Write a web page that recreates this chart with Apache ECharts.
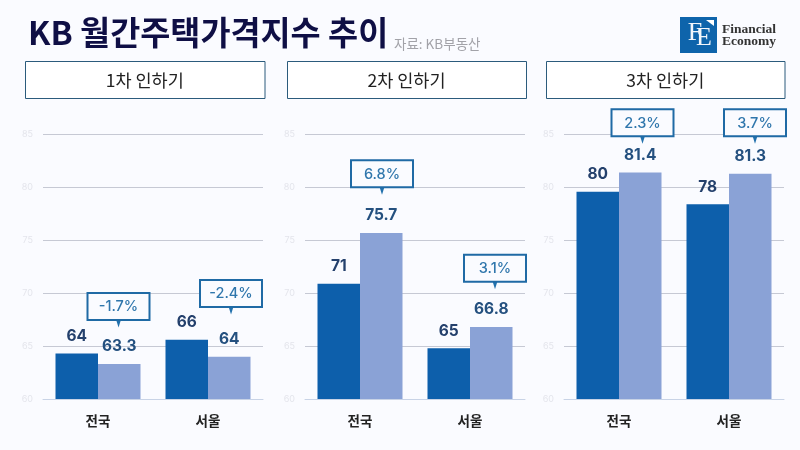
<!DOCTYPE html>
<html>
<head>
<meta charset="utf-8">
<style>
  html, body { margin: 0; padding: 0; background: #fafbff; }
  #chart { width: 800px; height: 450px; }
</style>
<script src="https://cdn.jsdelivr.net/npm/echarts@6/dist/echarts.min.js"></script>
</head>
<body>
<div id="chart"></div>
<script>
const FONT = '"Noto Sans CJK KR", sans-serif';
const NUM_FONT = 'Inter, "Noto Sans CJK KR", sans-serif';
const cats = ['전국', '서울'];

// bar = height, text = the (rounded) label printed above it
const panels = [
  {
    name: '1차 인하기', box: [25, 239.5], left: 43,
    before: [{ value: 64.3, text: '64' }, { value: 65.6, text: '66' }],
    after: [{ value: 63.3, text: '63.3' }, { value: 64, text: '64' }],
    notes: [{ text: '-1.7%', y: 68.75, dx: 20.5 }, { text: '-2.4%', y: 69.97, dx: 23 }]
  },
  {
    name: '2차 인하기', box: [287, 239], left: 305,
    before: [{ value: 70.9, text: '71' }, { value: 64.8, text: '65' }],
    after: [{ value: 75.7, text: '75.7' }, { value: 66.8, text: '66.8' }],
    notes: [{ text: '6.8%', y: 81.3, dx: 22 }, { text: '3.1%', y: 72.35, dx: 25 }]
  },
  {
    name: '3차 인하기', box: [546, 238.5], left: 564,
    before: [{ value: 79.6, text: '80' }, { value: 78.4, text: '78' }],
    after: [{ value: 81.4, text: '81.4' }, { value: 81.3, text: '81.3' }],
    notes: [{ text: '2.3%', y: 86.1, dx: 23.5 }, { text: '3.7%', y: 86.1, dx: 26 }]
  }
];

function barSeries(rows, idx, color, labelColor) {
  return {
    type: 'bar',
    xAxisIndex: idx,
    yAxisIndex: idx,
    barWidth: 42.5,
    barGap: 0,
    itemStyle: { color: color },
    label: {
      show: true,
      position: 'top',
      distance: 9.5,
      fontFamily: NUM_FONT,
      fontSize: 15.5,
      fontWeight: 'bold',
      color: labelColor,
      formatter: (p) => p.data.text
    },
    data: rows
  };
}

function renderNote(note, idx, api) {
  const pt = api.coord([cats[idx], note.y]);
  const cx = pt[0] + note.dx;
  const cy = pt[1];
  return {
    type: 'group',
    children: [
      { type: 'polygon', shape: { points: [[cx - 2.5, cy + 13], [cx + 2.5, cy + 13], [cx, cy + 21]] }, style: { fill: '#2271ad' } },
      { type: 'rect', shape: { x: cx - 31, y: cy - 13.5, width: 62, height: 27 }, style: { fill: '#fafbff', stroke: '#1f6aa5', lineWidth: 2 } },
      { type: 'text', style: { x: cx, y: cy + 0.5, text: note.text, align: 'center', verticalAlign: 'middle', fontFamily: NUM_FONT, fontSize: 14.5, fontWeight: 500, fill: '#2f76ac' } }
    ]
  };
}

const grid = [], xAxis = [], yAxis = [], series = [], graphic = [];

panels.forEach((p, i) => {
  grid.push({ left: p.left, width: 220, top: 134.5, height: 264.5 });
  xAxis.push({
    type: 'category',
    gridIndex: i,
    data: cats,
    axisTick: { show: false },
    axisLine: { lineStyle: { color: '#c8d3e6', width: 1 } },
    axisLabel: { margin: 15.5, fontFamily: FONT, fontSize: 13.5, fontWeight: 'bold', color: '#222' }
  });
  yAxis.push({
    type: 'value',
    gridIndex: i,
    min: 60,
    max: 85,
    interval: 5,
    axisLine: { show: false },
    axisTick: { show: false },
    axisLabel: { margin: 10, fontFamily: NUM_FONT, fontSize: 9, color: '#e4e5ec' },
    splitLine: { lineStyle: { color: '#c6c9d4', width: 1 } }
  });
  series.push(barSeries(p.before, i, '#0d5fab', '#24406c'));
  series.push(barSeries(p.after, i, '#8aa2d6', '#24507f'));
  series.push({
    type: 'custom',
    xAxisIndex: i,
    yAxisIndex: i,
    z: 5,
    silent: true,
    renderItem: (params, api) => renderNote(p.notes[params.dataIndex], params.dataIndex, api),
    data: p.notes.map((n, k) => [k, n.y])
  });
  graphic.push({
    type: 'rect',
    shape: { x: p.box[0] + 0.5, y: 61.5, width: p.box[1], height: 37 },
    style: { fill: '#fff', stroke: '#2b5b7c', lineWidth: 1 }
  });
  graphic.push({
    type: 'text',
    style: {
      x: p.box[0] + p.box[1] / 2,
      y: 80,
      text: p.name,
      align: 'center',
      verticalAlign: 'middle',
      fontFamily: FONT,
      fontSize: 17.5,
      fill: '#222'
    }
  });
});

// logo, top right
graphic.push(
  { type: 'rect', shape: { x: 680, y: 17, width: 37, height: 36 }, style: { fill: '#0e64ab' } },
  { type: 'polygon', shape: { points: [[706, 20], [714, 20], [714, 26]] }, style: { fill: '#fff' } },
  { type: 'text', style: { x: 695, y: 33, text: 'F', align: 'center', verticalAlign: 'middle', fontFamily: '"Liberation Serif"', fontSize: 26, fill: '#f2f6fb' } },
  { type: 'text', style: { x: 704, y: 38, text: 'E', align: 'center', verticalAlign: 'middle', fontFamily: '"Liberation Serif"', fontSize: 26, fill: '#f2f6fb' } },
  { type: 'text', style: { x: 722, y: 29.5, text: 'Financial', verticalAlign: 'middle', fontFamily: '"Liberation Serif"', fontSize: 13.5, fontWeight: 'bold', fill: '#333' } },
  { type: 'text', style: { x: 722, y: 41.5, text: 'Economy', verticalAlign: 'middle', fontFamily: '"Liberation Serif"', fontSize: 13.5, fontWeight: 'bold', fill: '#333' } }
);

const chart = echarts.init(document.getElementById('chart'));
chart.setOption({
  animation: false,
  backgroundColor: '#fafbff',
  title: [
    {
      text: 'KB 월간주택가격지수 추이',
      left: 23,
      top: 11.5,
      textStyle: { fontFamily: FONT, fontSize: 32.7, fontWeight: 'bold', color: '#0f0f45' }
    },
    {
      text: '자료: KB부동산',
      left: 389,
      top: 32,
      textStyle: { fontFamily: FONT, fontSize: 13.5, fontWeight: 'normal', color: '#a2a2a8' }
    }
  ],
  grid: grid,
  xAxis: xAxis,
  yAxis: yAxis,
  series: series,
  graphic: graphic
});
</script>
</body>
</html>
